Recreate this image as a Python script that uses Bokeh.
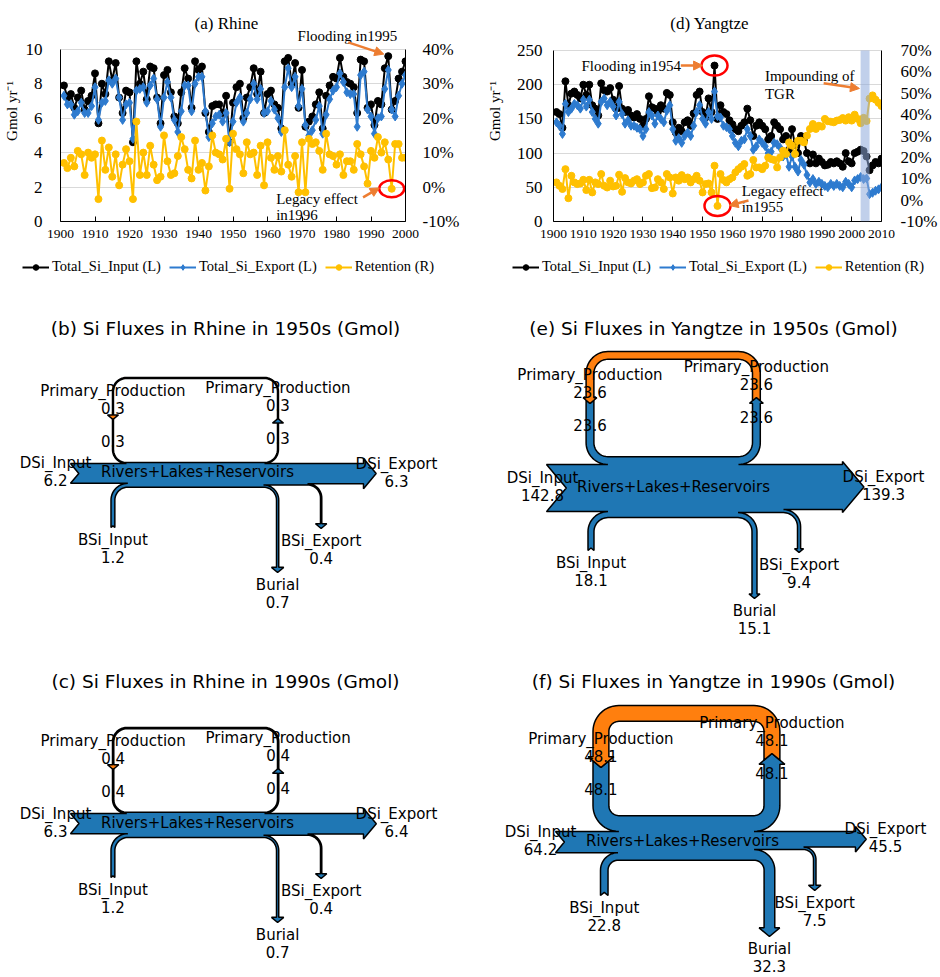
import math
from bokeh.plotting import figure
from bokeh.models import (Range1d, LinearAxis, FixedTicker, PrintfTickFormatter, Label,
                          Arrow, NormalHead, Legend, LegendItem, BoxAnnotation)
from bokeh.layouts import column, row
from bokeh.embed import file_html
from bokeh.resources import INLINE
from bokeh.core.properties import value

# ---------------- data ----------------
rhine_years = list(range(1901, 2001))
rhine_input = [7.9, 7.2, 7.4, 6.6, 7.2, 7.6, 6.5, 7.0, 7.3, 8.6,
               5.7, 8.0, 7.4, 9.3, 8.2, 9.2, 7.2, 6.3, 7.6, 7.5,
               4.6, 9.3, 8.0, 8.7, 7.1, 9.0, 8.9, 7.2, 5.7, 8.5,
               8.8, 7.5, 6.1, 5.7, 7.5, 8.9, 8.3, 6.6, 9.3, 8.8,
               9.0, 6.3, 5.2, 6.7, 6.8, 6.8, 6.3, 7.3, 4.6, 6.9,
               7.8, 8.0, 6.0, 7.2, 7.8, 8.9, 7.4, 8.7, 6.3, 7.4,
               7.6, 6.8, 6.6, 5.4, 9.3, 9.5, 8.0, 9.2, 6.6, 8.8,
               5.5, 5.8, 6.1, 6.8, 7.5, 5.4, 7.3, 7.9, 8.4, 8.3,
               9.5, 8.4, 8.1, 8.0, 7.8, 6.3, 9.4, 9.3, 6.6, 6.8,
               5.6, 7.0, 6.8, 8.9, 9.6, 6.5, 7.0, 8.3, 8.7, 9.3]
rhine_export = [7.3, 6.8, 6.8, 6.2, 6.4, 6.9, 6.3, 6.3, 6.7, 7.8,
                5.9, 6.9, 7.0, 8.2, 8.0, 8.3, 7.2, 5.9, 6.8, 6.9,
                4.8, 7.6, 7.7, 7.8, 6.9, 7.9, 8.3, 7.1, 5.5, 7.2,
                8.1, 7.2, 5.9, 5.2, 6.4, 7.9, 7.9, 6.4, 8.0, 8.4,
                8.4, 6.4, 4.9, 5.7, 6.1, 6.2, 5.8, 6.3, 4.6, 5.8,
                6.9, 7.2, 5.8, 6.3, 7.1, 8.0, 7.1, 7.7, 6.3, 6.4,
                7.0, 6.5, 6.0, 5.2, 7.8, 8.9, 7.8, 8.4, 6.7, 7.7,
                5.6, 5.0, 5.3, 5.9, 6.7, 5.1, 6.2, 7.1, 7.6, 7.8,
                8.6, 8.1, 7.5, 7.4, 7.4, 5.5, 8.5, 8.7, 6.5, 6.1,
                5.1, 6.0, 6.1, 7.7, 8.8, 6.5, 6.1, 7.3, 8.0, 8.5]
rhine_retention = [7, 5.5, 8.5, 6, 10.5, 9.5, 3.5, 10, 8.5, 9.5,
                   -3.5, 13.5, 5, 11.5, 3, 9.5, 0.5, 6.5, 11, 7.5,
                   -3.5, 19, 3.5, 10, 3.5, 12, 6.5, 2, 3, 15,
                   7.5, 3.5, 4, 9, 14.5, 11, 5, 2.5, 13.5, 5,
                   7, -1, 6, 15, 10, 9.5, 8, 14, -0.5, 15.5,
                   11, 9.5, 4, 13, 9.5, 10, 3.5, 12, 0.5, 13,
                   8.5, 5, 9, 4.5, 16.5, 6.5, 3, 9, -1.5, 13,
                   -1.5, 14, 12.5, 13, 10.5, 5, 15.5, 9.5, 9, 6.5,
                   9.5, 3.5, 7.5, 7.5, 5, 12.5, 9.5, 6, 1, 10.5,
                   8.5, 14.5, 10, 13, 8, -0.5, 12.5, 12.5, 8.5, 8.5]

yangtze_years = list(range(1901, 2011))
yangtze_input = [160, 157, 137, 205, 170, 187, 190, 185, 180, 200,
                 185, 200, 170, 165, 155, 202, 192, 190, 195, 178,
                 165, 198, 165, 160, 163, 155, 152, 157, 150, 140,
                 150, 183, 167, 165, 160, 170, 165, 188, 185, 145,
                 130, 137, 132, 145, 148, 140, 158, 185, 190, 160,
                 152, 180, 160, 228, 150, 170, 160, 157, 148, 142,
                 135, 132, 140, 145, 165, 148, 125, 140, 145, 140,
                 135, 120, 125, 145, 140, 135, 120, 125, 105, 135,
                 112, 100, 125, 118, 100, 85, 98, 85, 92, 87,
                 82, 83, 87, 85, 88, 85, 80, 100, 88, 85,
                 100, 102, 105, 103, 95, 75, 82, 87, 85, 92]
yangtze_export = [145, 140, 128, 172, 160, 165, 172, 170, 165, 178,
                  168, 178, 160, 150, 143, 175, 180, 170, 175, 168,
                  155, 175, 157, 143, 148, 140, 140, 137, 135, 125,
                  135, 160, 155, 143, 155, 150, 145, 162, 170, 135,
                  118, 122, 115, 125, 130, 125, 140, 160, 170, 150,
                  143, 160, 150, 190, 154, 152, 140, 138, 135, 125,
                  115, 110, 118, 120, 135, 125, 105, 110, 120, 115,
                  110, 100, 102, 115, 113, 108, 95, 98, 80, 95,
                  80, 73, 90, 83, 68, 57, 62, 55, 58, 55,
                  52, 50, 55, 52, 55, 52, 50, 58, 55, 50,
                  60, 62, 65, 62, 63, 40, 42, 45, 47, 50]
yangtze_retention = [8.3, 6.7, 5.2, 14.5, 0.9, 11.4, 8.3, 7.5, 7.8, 9.5,
                     4.7, 9.5, 3.6, 8.3, 7.5, 12.2, 6.7, 5.9, 9.1, 6.4,
                     6.7, 11.9, 3.9, 10.3, 8.3, 7.8, 9.1, 9.8, 7.5, 8.3,
                     11.4, 12.2, 5.6, 5.9, 9.8, 8.3, 5.2, 12.2, 10.6, 3.1,
                     10.6, 9.1, 11.7, 9.8, 10.6, 8.3, 9.8, 11.4, 9.1, 3.6,
                     7.5, 7.8, 3.6, 16.1, -2.7, 12.2, 9.4, 8.3, 9.8, 10.6,
                     13.0, 14.5, 15.6, 16.9, 11.4, 12.2, 18.8, 15.3, 15.3, 14.5,
                     16.1, 20.0, 19.2, 18.8, 15.3, 20.0, 23.1, 21.6, 27.0, 25.5,
                     21.6, 27.8, 27.8, 27.0, 30.2, 33.3, 35.6, 33.3, 34.8, 34.4,
                     38.0, 36.9, 36.7, 36.4, 37.2, 37.5, 38.4, 37.2, 38.8, 37.2,
                     40.0, 38.0, 36.0, 38.5, 37.0, 47.5, 49.0, 47.0, 45.5, 44.0]

legend_labels = ["Total_Si_Input (L)", "Total_Si_Export (L)", "Retention (R)"]

# Sankey fluxes (Gmol): DSi_Input, BSi_Input, Primary_Production, DSi_Export, BSi_Export, Burial
flux_names = ["DSi_Input", "BSi_Input", "Primary_Production", "DSi_Export", "BSi_Export", "Burial"]
rhine_1950s = [6.2, 1.2, 0.3, 6.3, 0.4, 0.7]
rhine_1990s = [6.3, 1.2, 0.4, 6.4, 0.4, 0.7]
yangtze_1950s = [142.8, 18.1, 23.6, 139.3, 9.4, 15.1]
yangtze_1990s = [64.2, 22.8, 48.1, 45.5, 7.5, 32.3]

# ---------------- styles ----------------
SERIF = "Liberation Serif"
SANS = "DejaVu Sans"
C_IN = "#000000"
C_EX = "#2E7BCF"
C_RET = "#FFC000"
C_ARROW = "#ED7D31"
C_SK_BLUE = "#1f77b4"
C_SK_ORANGE = "#ff7f0e"


def series_glyphs(p, years, inp, exp, ret, **kw):
    l1 = p.line(years, inp, color=C_IN, line_width=2)
    s1 = p.scatter(years, inp, marker="circle", size=7, color=C_IN)
    l2 = p.line(years, exp, color=C_EX, line_width=2)
    s2 = p.scatter(years, exp, marker="diamond", size=9, color=C_EX)
    l3 = p.line(years, ret, color=C_RET, line_width=2, **kw)
    s3 = p.scatter(years, ret, marker="circle", size=7, color=C_RET, **kw)
    return [(l1, s1), (l2, s2), (l3, s3)]


def line_panel(title, years, inp, exp, ret, x_end, y_end, y_top, y_step, pct_lo, pct_hi,
               borders, title_xy, left_standoff, right_standoff, ylab_standoff):
    bl, br, bb = borders
    pct_top = pct_lo + (pct_hi - pct_lo) * y_top / y_end
    p = figure(width=470, height=254, x_range=Range1d(1900, x_end),
               y_range=Range1d(0, y_top),
               output_backend="svg", toolbar_location=None,
               min_border_left=bl, min_border_right=br, min_border_top=0, min_border_bottom=bb)
    p.outline_line_color = None
    p.extra_y_ranges = {"pct": Range1d(pct_lo, pct_top)}
    p.xgrid.visible = False
    p.ygrid.grid_line_color = "#d9d9d9"
    p.ygrid.grid_line_width = 1

    xa = p.xaxis[0]
    xa.ticker = FixedTicker(ticks=list(range(1900, x_end + 1, 10)))
    xa.major_label_text_font = SERIF
    xa.major_label_text_font_size = "13.5px"
    xa.major_label_text_color = "black"
    xa.axis_line_color = "black"
    xa.major_tick_in = 5
    xa.major_tick_out = 0
    xa.major_tick_line_color = "black"
    xa.minor_tick_line_color = None
    xa.major_label_standoff = 8

    ya = p.yaxis[0]
    ya.ticker = FixedTicker(ticks=list(range(0, y_end + 1, y_step)))
    ya.bounds = (0, y_end)
    ya.major_label_text_font = SERIF
    ya.major_label_text_font_size = "17px"
    ya.major_label_text_color = "black"
    ya.axis_line_color = "black"
    ya.major_tick_line_color = None
    ya.minor_tick_line_color = None
    ya.major_label_standoff = left_standoff
    ya.axis_label = "Gmol yr\u207b\u00b9"
    ya.axis_label_text_font = SERIF
    ya.axis_label_text_font_style = "normal"
    ya.axis_label_text_font_size = "15px"
    ya.axis_label_text_color = "black"
    ya.axis_label_standoff = ylab_standoff

    ra = LinearAxis(y_range_name="pct",
                    ticker=FixedTicker(ticks=list(range(pct_lo, pct_hi + 1, 10))),
                    formatter=PrintfTickFormatter(format="%d%%"))
    ra.bounds = (pct_lo, pct_hi)
    ra.major_label_text_font = SERIF
    ra.major_label_text_font_size = "17px"
    ra.major_label_text_color = "black"
    ra.axis_line_color = "black"
    ra.major_tick_line_color = None
    ra.minor_tick_line_color = None
    ra.major_label_standoff = right_standoff
    p.add_layout(ra, "right")

    series_glyphs(p, years, inp, exp, ret, y_range_name="pct")

    p.add_layout(Label(x=title_xy[0], y=title_xy[1], text=title, text_font=SERIF,
                       text_font_size="17px", text_align="center", text_baseline="middle",
                       text_color="black"))
    return p


def legend_panel(x_left, height, years, inp, exp, ret):
    # the series are drawn out of view; only their legend entries show
    q = figure(width=470, height=height, x_range=Range1d(0, 470), y_range=Range1d(0, height),
               output_backend="svg", toolbar_location=None, x_axis_type=None,
               y_axis_type=None, min_border_left=0, min_border_right=0, min_border_top=0,
               min_border_bottom=0)
    q.outline_line_color = None
    q.xgrid.visible = False
    q.ygrid.visible = False
    pairs = series_glyphs(q, years, inp, exp, ret)
    legend = Legend(items=[LegendItem(label=legend_labels[i], renderers=list(pairs[i]))
                           for i in range(3)],
                    orientation="horizontal", location=(x_left, height - 21),
                    label_text_font=SERIF, label_text_font_size="14.5px",
                    label_text_color="black",
                    glyph_width=27, glyph_height=14, label_standoff=3, spacing=8,
                    padding=0, margin=0, border_line_color=None,
                    background_fill_alpha=0)
    q.add_layout(legend)
    return q


def note(p, x, y, text, align="left"):
    p.add_layout(Label(x=x, y=y, text=text, text_font=SERIF, text_font_size="15px",
                       text_align=align, text_baseline="middle", text_color="black"))


def orange_arrow(p, x0, y0, x1, y1):
    p.add_layout(Arrow(end=NormalHead(size=9, fill_color=C_ARROW, line_color=C_ARROW),
                       x_start=x0, y_start=y0, x_end=x1, y_end=y1,
                       line_color=C_ARROW, line_width=2.5))


# ---------- (a) Rhine ----------
fa = line_panel("(a) Rhine", rhine_years, rhine_input, rhine_export, rhine_retention,
                2000, 10, 222 / 17.3, 2, -10, 40, (56, 65, 32), (1948.1, 11.5), 12, 11, 3)
note(fa, 1983.7, 10.75, "Flooding  in1995", "center")
orange_arrow(fa, 1983.4, 10.4, 1993.7, 9.72)
note(fa, 1962.5, 1.33, "Legacy  effect")
note(fa, 1962.5, 0.35, "in1996")
orange_arrow(fa, 1987.7, 1.4, 1992.4, 1.95)
fa.ellipse(x=[1996], y=[rhine_retention[rhine_years.index(1996)]], width=25, height=17,
           width_units="screen", height_units="screen", y_range_name="pct",
           fill_color=None, line_color="red", line_width=2.5)
la = legend_panel(22, 34, rhine_years, rhine_input, rhine_export, rhine_retention)

# ---------- (d) Yangtze ----------
fd = line_panel("(d) Yangtze", yangtze_years, yangtze_input, yangtze_export, yangtze_retention,
                2010, 250, 221 / 0.684, 50, -10, 70, (83, 47, 33), (1952.4, 289.5), 5, 13, 11)
fd.add_layout(BoxAnnotation(left=2003, right=2006, bottom=0, top=250, fill_color="#8EAADB",
                            fill_alpha=0.55, line_color=None))
note(fd, 1909.4, 228, "Flooding  in1954")
orange_arrow(fd, 1942.7, 228, 1950.0, 228)
fd.ellipse(x=[1954], y=[yangtze_input[yangtze_years.index(1954)]], width=26, height=20,
           width_units="screen", height_units="screen",
           fill_color=None, line_color="red", line_width=2.5)
note(fd, 1970.9, 212, "Impounding  of")
note(fd, 1970.9, 186, "TGR")
orange_arrow(fd, 1990.6, 202, 2002.6, 194.5)
note(fd, 1963.1, 43.9, "Legacy  effect")
note(fd, 1963.1, 20.5, "in1955")
orange_arrow(fd, 1965.4, 30.7, 1958.9, 23.4)
fd.ellipse(x=[1955], y=[yangtze_retention[yangtze_years.index(1955)]], width=26, height=20,
           width_units="screen", height_units="screen", y_range_name="pct",
           fill_color=None, line_color="red", line_width=2.5)
ld = legend_panel(42, 34, yangtze_years, yangtze_input, yangtze_export, yangtze_retention)

# ---------- Sankey panels ----------
sk = figure(width=940, height=689, x_range=Range1d(0, 940), y_range=Range1d(977, 288),
            output_backend="svg", toolbar_location=None, x_axis_type=None, y_axis_type=None,
            min_border_left=0, min_border_right=0, min_border_top=0, min_border_bottom=0)
sk.outline_line_color = None
sk.xgrid.visible = False
sk.ygrid.visible = False


def arc(cx, cy, R, t0, t1, n=14):
    xs, ys = [], []
    for i in range(n + 1):
        t = math.radians(t0 + (t1 - t0) * i / n)
        xs.append(cx + R * math.cos(t))
        ys.append(cy + R * math.sin(t))
    return xs, ys


def sankey(p, vals, L, title):
    din, bin_, pp, dout, bex, bur = vals
    s, r, sh = L["scale"], L["r"], L["sh"]
    x0, T0 = L["x0"], L["t0"]
    wD, wB, wP, wX, wU = din * s, bin_ * s, pp * s, bex * s, bur * s
    lx, bx, rx, ux, ex, xe = L["lx"], L["bx"], L["rx"], L["ux"], L["ex"], L["xe"]
    tip_l, tip_r, tail_b, tip_u, tip_e = L["tip_l"], L["tip_r"], L["tail_b"], L["tip_u"], L["tip_e"]
    T1 = T0 - wP
    B0 = T0 + wD
    B1 = B0 + wB
    B2 = B1 - wU
    B3 = B2 - wX
    X, Y = [], []

    def add(xs, ys):
        X.extend(xs)
        Y.extend(ys)

    hl_p = 0.84 * (wP / 2 + sh)
    add([x0], [T0])
    R = r + wP
    cx, cy = lx + R, T1 - r
    add(*arc(cx, cy, R, 90, 180))
    hb_l = tip_l - hl_p
    yc_l = hb_l + hl_p * sh / (sh + wP / 2)
    add([lx, lx + wP / 2, lx + wP], [yc_l, tip_l, yc_l])
    add(*arc(cx, cy, r, 180, 90))
    cx2, cy2 = rx - r, T1 - r
    add(*arc(cx2, cy2, r, 90, 0))
    base_r = tip_r + hl_p
    add([rx, rx - sh, rx + wP / 2, rx + wP + sh, rx + wP],
        [base_r, base_r, tip_r, base_r, base_r])
    add(*arc(cx2, cy2, r + wP, 0, 90))
    hl_m = 0.84 * ((B3 - T0) / 2 + sh)
    add([xe, xe, xe + hl_m, xe, xe], [T0, T0 - sh, (T0 + B3) / 2, B3 + sh, B3])
    cx3, cy3 = ex - r, B2 + r
    add(*arc(cx3, cy3, r + wX, -90, 0))
    hl_x = 0.84 * (wX / 2 + sh)
    bbx = tip_e - hl_x
    add([ex + wX, ex + wX + sh, ex + wX / 2, ex - sh, ex], [bbx, bbx, tip_e, bbx, bbx])
    add(*arc(cx3, cy3, r, 0, -90))
    cx4, cy4 = ux - r, B1 + r
    add(*arc(cx4, cy4, r + wU, -90, 0))
    hl_u = 0.84 * (wU / 2 + sh)
    bbu = tip_u - hl_u
    add([ux + wU, ux + wU + sh, ux + wU / 2, ux - sh, ux], [bbu, bbu, tip_u, bbu, bbu])
    add(*arc(cx4, cy4, r, 0, -90))
    cx5, cy5 = bx + wB + r, B1 + r
    add(*arc(cx5, cy5, r, 270, 180))
    nd = 0.84 * wB / 2
    add([bx + wB, bx + wB / 2, bx], [tail_b, tail_b - nd, tail_b])
    add(*arc(cx5, cy5, r + wB, 180, 270))
    ndm = 0.84 * wD / 2
    add([x0, x0 + ndm, x0], [B0, (T0 + B0) / 2, T0])
    p.patch(X, Y, fill_color=C_SK_BLUE, line_color="black", line_width=1.5)

    # orange primary-production loop
    Ro = r + wP
    ytop = L["loop_top"]
    yc_r = base_r - hl_p * sh / (sh + wP / 2)
    OX, OY = [rx + wP], [yc_r]
    c1 = (rx - r, ytop + Ro)
    c2 = (lx + Ro, ytop + Ro)
    xs, ys = arc(c1[0], c1[1], Ro, 0, -90); OX += xs; OY += ys
    xs, ys = arc(c2[0], c2[1], Ro, -90, -180); OX += xs; OY += ys
    OX += [lx, lx - sh, lx + wP / 2, lx + wP + sh, lx + wP]
    OY += [hb_l, hb_l, tip_l, hb_l, hb_l]
    xs, ys = arc(c2[0], c2[1], r, -180, -90); OX += xs; OY += ys
    xs, ys = arc(c1[0], c1[1], r, -90, 0); OX += xs; OY += ys
    OX += [rx, rx + wP / 2]
    OY += [yc_r, tip_r]
    p.patch(OX, OY, fill_color=C_SK_ORANGE, line_color="black", line_width=1.5)

    f = lambda v: f"{v:.1f}"
    mid_in = (T0 + B0) / 2
    mid_out = (T0 + B3) / 2
    g = 17
    tx, ty, tt = [], [], []

    def lab(x, y, t):
        tx.append(x); ty.append(y); tt.append(t)

    lab(x0 + 127, mid_in - 1, "Rivers+Lakes+Reservoirs")
    lab(L["in_x"], mid_in - 10, flux_names[0]); lab(L["in_x"], mid_in + 7, f(din))
    lab(L["out_x"], mid_out - 10, flux_names[3]); lab(L["out_x"], mid_out + 7, f(dout))
    lab(bx + wB / 2, tail_b + 12, flux_names[1]); lab(bx + wB / 2, tail_b + 12 + g, f(bin_))
    lab(ux + wU / 2, tip_u + 12, flux_names[5]); lab(ux + wU / 2, tip_u + 12 + g, f(bur))
    lab(ex + wX / 2, tip_e + 12, flux_names[4]); lab(ex + wX / 2, tip_e + 12 + g, f(bex))
    lab(lx + wP / 2, tip_l - 29, flux_names[2]); lab(lx + wP / 2, tip_l - 12, f(pp))
    lab(lx + wP / 2, tip_l + 21, f(pp))
    lab(rx + wP / 2, tip_r - 31, flux_names[2]); lab(rx + wP / 2, tip_r - 14, f(pp))
    lab(rx + wP / 2, tip_r + 19, f(pp))
    p.text(x=tx, y=ty, text=tt, text_font=value(SANS), text_font_size="15px",
           text_align="center", text_baseline="middle", text_color="black")
    p.text(x=[L["title_x"]], y=[L["title_y"]], text=[title], text_font=value(SANS),
           text_font_size="18.5px", text_align="center", text_baseline="middle",
           text_color="black")


lay_b = dict(x0=70, t0=463, scale=3.2, r=13, sh=5, lx=112, bx=110.5, rx=277, ux=276, ex=320,
             xe=363, loop_top=377, tip_l=419, tip_r=418, tail_b=527, tip_u=572, tip_e=528,
             in_x=55, out_x=396, title_x=225, title_y=328)
lay_c = dict(lay_b)
for k in ["t0", "loop_top", "tip_l", "tip_r", "tail_b", "tip_u", "tip_e"]:
    lay_c[k] = lay_b[k] + 350
lay_c["title_y"] = 681
lay_e = dict(x0=546, t0=464, scale=0.33, r=14, sh=3, lx=585.6, bx=587.5, rx=752, ux=751.5,
             ex=797, xe=842, loop_top=351, tip_l=403, tip_r=397, tail_b=550, tip_u=598,
             tip_e=552, in_x=542, out_x=883, title_x=713, title_y=328)
lay_f = dict(x0=555, t0=831, scale=0.33, r=10, sh=5, lx=592.5, bx=600, rx=763.5, ux=763.6,
             ex=813, xe=855, loop_top=705, tip_l=767, tip_r=753, tail_b=895, tip_u=936,
             tip_e=890, in_x=540, out_x=885, title_x=713, title_y=681)

sankey(sk, rhine_1950s, lay_b, "(b) Si Fluxes in Rhine in 1950s (Gmol)")
sankey(sk, rhine_1990s, lay_c, "(c) Si Fluxes in Rhine in 1990s (Gmol)")
sankey(sk, yangtze_1950s, lay_e, "(e) Si Fluxes in Yangtze in 1950s (Gmol)")
sankey(sk, yangtze_1990s, lay_f, "(f) Si Fluxes in Yangtze in 1990s (Gmol)")

layout = column(row(fa, fd), row(la, ld), sk)
open("out.html", "w").write(file_html(layout, INLINE, "Si fluxes"))
